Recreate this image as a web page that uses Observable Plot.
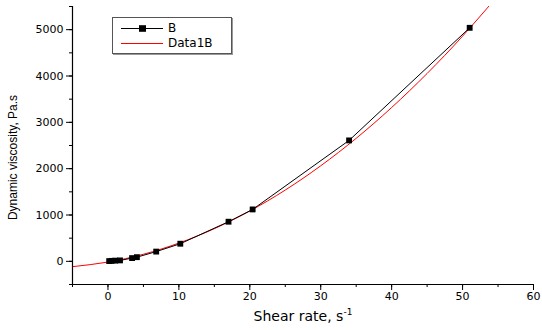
<!DOCTYPE html>
<html><head><meta charset="utf-8">
<script src="https://cdn.jsdelivr.net/npm/d3@7"></script>
<script src="https://cdn.jsdelivr.net/npm/@observablehq/plot@0.6"></script>
<style>
body{margin:0;background:#fff;font-family:"DejaVu Sans",sans-serif;}
#wrap{position:relative;width:542px;height:330px;}
#legend{position:absolute;left:112px;top:17px;width:118px;height:35px;border:1px solid #555;box-shadow:1px 1px 0 #999;background:#fff;font-size:12px;line-height:13px;font-family:"DejaVu Sans",sans-serif;}
.row{position:absolute;left:8px;height:13px;display:flex;align-items:center;}
</style></head><body>
<div id="wrap"></div>
<script>
const shearRate = [0.17, 0.51, 1.02, 1.7, 3.4, 4.08, 6.8, 10.2, 17, 20.4, 34, 51];
const viscosity = [5, 10, 15, 20, 70, 90, 210, 380, 855, 1120, 2610, 5040];
const fitX = [-5, 0, 5, 10, 15, 20, 25, 30, 35, 40, 45, 50, 55];
const fitY = [-115, -16, 153, 394, 705, 1086, 1538, 2062, 2655, 3320, 4054, 4860, 5737];
const xTicks = [0, 10, 20, 30, 40, 50, 60];
const yTicks = [0, 1000, 2000, 3000, 4000, 5000];

const pts = shearRate.map((x, i) => ({x, y: viscosity[i]}));
const fit = fitX.map((x, i) => ({x, y: fitY[i]}));

const plot = Plot.plot({
  width: 542, height: 330,
  marginLeft: 72, marginRight: 9, marginTop: 6, marginBottom: 46,
  style: {fontFamily: '"DejaVu Sans", sans-serif', fontSize: "11px", color: "#000"},
  x: {domain: [-5, 60]},
  y: {domain: [-500, 5500]},
  marks: [
    Plot.line(fit, {x: "x", y: "y", stroke: "#ff0000", strokeWidth: 1, curve: "natural", clip: true}),
    Plot.line(pts, {x: "x", y: "y", stroke: "#000", strokeWidth: 1}),
    Plot.dot(pts, {x: "x", y: "y", symbol: "square", r: 3.3, fill: "#000"}),
    Plot.ruleX([-5], {stroke: "#000", strokeWidth: 1.2}),
    Plot.ruleY([-500], {stroke: "#000", strokeWidth: 1.2}),
    Plot.axisX(d3.range(-5, 61, 5), {tickSize: 3, text: null, label: null}),
    Plot.axisX(xTicks, {tickSize: 6, tickPadding: 2, label: null, fontSize: 11, tickFormat: "d"}),
    Plot.axisY(d3.range(-500, 5501, 500), {tickSize: 3, text: null, label: null}),
    Plot.axisY(yTicks, {tickSize: 6, tickPadding: 3, label: null, fontSize: 11, tickFormat: "d"}),
    Plot.text(["Shear rate, s⁻¹"], {frameAnchor: "bottom", dy: 36, fontSize: 14, textAnchor: "middle"}),
    Plot.text(["Dynamic viscosity, Pa.s"], {frameAnchor: "left", dx: -59, dy: 12, rotate: -90, fontSize: 12, fontFamily: '"Liberation Sans", Arial, sans-serif', textAnchor: "middle"})
  ]
});
const wrap = document.getElementById("wrap");
wrap.appendChild(plot);
plot.querySelectorAll("text").forEach(t => {
  if (t.textContent === "Shear rate, s⁻¹") {
    t.innerHTML = 'Shear rate, s<tspan dy="-6" font-size="9">-1</tspan>';
  }
});
const leg = document.createElement("div");
leg.id = "legend";
leg.innerHTML = `
<div class="row" style="top:4px"><svg width="44" height="13"><line x1="0" x2="42" y1="6.5" y2="6.5" stroke="#000"/><rect x="18" y="3.2" width="7" height="6.6" fill="#000"/></svg><span style="margin-left:3px">B</span></div>
<div class="row" style="top:19px"><svg width="44" height="13"><line x1="0" x2="42" y1="6.5" y2="6.5" stroke="#f00"/></svg><span style="margin-left:3px">Data1B</span></div>`;
wrap.appendChild(leg);
</script>
</body></html>
